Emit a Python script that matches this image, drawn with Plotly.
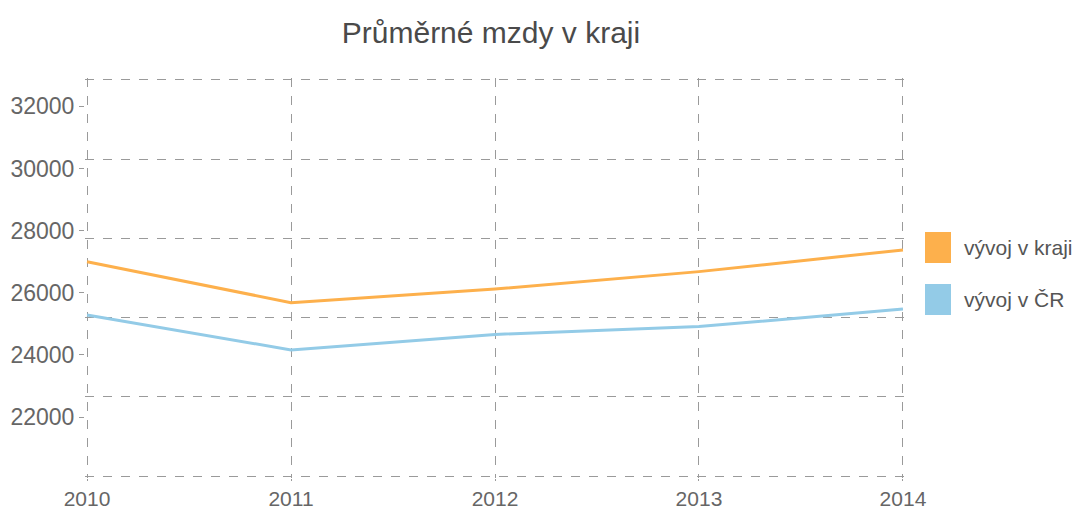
import plotly.graph_objects as go

years = [2010, 2011, 2012, 2013, 2014]
kraj = [27000, 25680, 26120, 26680, 27380]
cr = [25285, 24160, 24660, 24910, 25480]
series_names = ["vývoj v kraji", "vývoj v ČR"]
y_ticks = [22000, 24000, 26000, 28000, 30000, 32000]
y_grid = [20100, 22650, 25200, 27750, 30300, 32850]
y_range = [20036, 32914]
x_range = [2009.99, 2014.01]

c_kraj = "#FDB04C"
c_cr = "#93CBE7"
grid_c = "#9a9a9a"
font_f = "Liberation Sans, Arial, sans-serif"

fig = go.Figure()
fig.add_trace(go.Scatter(x=years, y=kraj, mode="lines", name=series_names[0],
                         line=dict(color=c_kraj, width=3), showlegend=False))
fig.add_trace(go.Scatter(x=years, y=cr, mode="lines", name=series_names[1],
                         line=dict(color=c_cr, width=3), showlegend=False))
# invisible trace to activate overlay grid axis
fig.add_trace(go.Scatter(x=[years[0]], y=[y_grid[0]], yaxis="y2", mode="markers",
                         marker=dict(opacity=0), showlegend=False, hoverinfo="skip"))

fig.update_layout(
    width=1080, height=503,
    margin=dict(l=77, r=183, t=70, b=33, autoexpand=False),
    paper_bgcolor="white", plot_bgcolor="white",
    title=dict(text="Průměrné mzdy v kraji", x=0.4472, xanchor="center", y=0.9503, yanchor="middle",
               font=dict(family=font_f, size=30, color="#4a4a4a")),
    xaxis=dict(range=x_range, tickvals=years, ticktext=[str(y) for y in years],
               showgrid=True, gridcolor=grid_c, griddash="dash", gridwidth=1, automargin=False,
               zeroline=False, showline=False, ticks="outside", ticklen=2, tickcolor=grid_c,
               tickfont=dict(family=font_f, size=21, color="#666")),
    yaxis=dict(range=y_range, tickvals=y_ticks, ticktext=[str(v) for v in y_ticks],
               showgrid=False, zeroline=False, showline=False, automargin=False,
               ticks="outside", ticklen=5, tickcolor=grid_c,
               tickfont=dict(family=font_f, size=23, color="#666")),
    yaxis2=dict(range=y_range, overlaying="y", tickvals=y_grid, showticklabels=False,
                showgrid=True, gridcolor=grid_c, griddash="dash", gridwidth=1, automargin=False,
                zeroline=False, showline=False, ticks=""),
    showlegend=False,
)

# legend drawn as swatches + labels
for i, (name, col) in enumerate(zip(series_names, [c_kraj, c_cr])):
    y0 = 0.5375 - i * 0.13
    fig.add_shape(type="rect", xref="paper", yref="paper", x0=1.0244, x1=1.0561,
                  y0=y0, y1=y0 + 0.0775, fillcolor=col, line=dict(width=0))
    fig.add_annotation(xref="paper", yref="paper", x=1.0695, y=y0 + 0.039, text=name,
                       showarrow=False, xanchor="left", yanchor="middle",
                       font=dict(family=font_f, size=21, color="#555"))

fig.write_html("out.html")
